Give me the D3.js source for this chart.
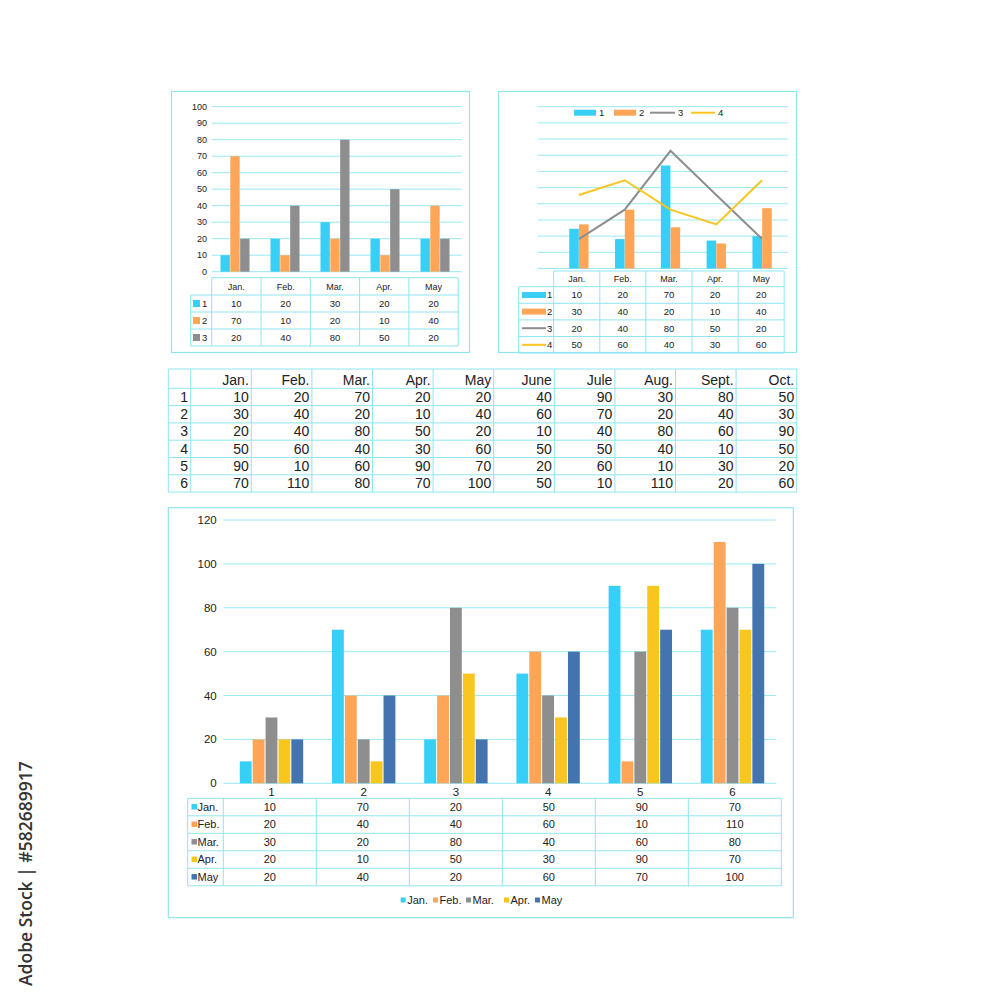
<!DOCTYPE html>
<html>
<head>
<meta charset="utf-8">
<script src="https://cdn.jsdelivr.net/npm/d3@7"></script>
<style>
  body { margin: 0; background: #fff; }
  text { font-family: "Liberation Sans", Arial, sans-serif; fill: #222; }
</style>
</head>
<body>
<div id="vis"></div>
<script>
var width = 1000,
    height = 1000;

// colours
var cBlue = "#38cff7", cOrange = "#ffa557", cGrey = "#8e8e8e",
    cYellow = "#f9c51f", cNavy = "#4474b0",
    gridColor = "#98e9f4", borderColor = "#8fe5f0";

// ---- data ----
var months = ["Jan.", "Feb.", "Mar.", "Apr.", "May"];

// top left chart
var tlSeries1 = [10, 20, 30, 20, 20],
    tlSeries2 = [70, 10, 20, 10, 40],
    tlSeries3 = [20, 40, 80, 50, 20];
var tlTicks = [0, 10, 20, 30, 40, 50, 60, 70, 80, 90, 100];

// top right chart: table values, and bar heights as drawn
var trTable1 = [10, 20, 70, 20, 20],
    trTable2 = [30, 40, 20, 10, 40],
    trTable3 = [20, 40, 80, 50, 20],
    trTable4 = [50, 60, 40, 30, 60];
var trBars1 = [27, 20, 70, 19, 22],
    trBars2 = [30, 40, 28, 17, 41];
var trGrid = [0, 11, 22, 33, 44, 55, 66, 77, 88, 99, 110];

// middle table
var allMonths = ["Jan.", "Feb.", "Mar.", "Apr.", "May", "June", "Jule", "Aug.", "Sept.", "Oct."];
var rowLabels = ["1", "2", "3", "4", "5", "6"];
var row1 = [10, 20, 70, 20, 20, 40, 90, 30, 80, 50],
    row2 = [30, 40, 20, 10, 40, 60, 70, 20, 40, 30],
    row3 = [20, 40, 80, 50, 20, 10, 40, 80, 60, 90],
    row4 = [50, 60, 40, 30, 60, 50, 50, 40, 10, 50],
    row5 = [90, 10, 60, 90, 70, 20, 60, 10, 30, 20],
    row6 = [70, 110, 80, 70, 100, 50, 10, 110, 20, 60];

// bottom chart
var groups = ["1", "2", "3", "4", "5", "6"];
var bJan = [10, 70, 20, 50, 90, 70],
    bFeb = [20, 40, 40, 60, 10, 110],
    bMar = [30, 20, 80, 40, 60, 80],
    bApr = [20, 10, 50, 30, 90, 70],
    bMay = [20, 40, 20, 60, 70, 100];
var bTicks = [0, 20, 40, 60, 80, 100, 120];

var svg = d3.select("#vis").append("svg")
    .attr("width", width)
    .attr("height", height);

function panel(x, y, w, h) {
    svg.append("rect")
        .attr("x", x).attr("y", y)
        .attr("width", w).attr("height", h)
        .attr("fill", "none")
        .attr("stroke", borderColor)
        .attr("stroke-width", 1.2);
}

function hline(g, x1, x2, y) {
    g.append("line")
        .attr("x1", x1).attr("x2", x2)
        .attr("y1", y).attr("y2", y)
        .attr("stroke", borderColor);
}
function vline(g, x, y1, y2) {
    g.append("line")
        .attr("x1", x).attr("x2", x)
        .attr("y1", y1).attr("y2", y2)
        .attr("stroke", borderColor);
}

// ================= top left =================
panel(171.5, 91.5, 298, 261);
var tl = svg.append("g");
var tlY = d3.scaleLinear().domain([0, 100]).range([271.7, 106.7]);
var tlX = d3.scaleBand().domain(months).range([210, 460]).paddingInner(0.4).paddingOuter(0.2);
var tlX1 = d3.scaleBand().domain([0, 1, 2]).range([0, tlX.bandwidth()]).padding(0.05);

tl.selectAll(".grid").data(tlTicks).enter().append("line")
    .attr("x1", 211.7).attr("x2", 461.7)
    .attr("y1", tlY).attr("y2", tlY)
    .attr("stroke", gridColor);
tl.selectAll(".tick").data(tlTicks).enter().append("text")
    .attr("x", 207).attr("y", tlY).attr("dy", "0.35em")
    .attr("text-anchor", "end").attr("font-size", 9)
    .text(function(d) { return d; });

var tlData = [tlSeries1, tlSeries2, tlSeries3], tlColors = [cBlue, cOrange, cGrey];
tlData.forEach(function(s, i) {
    tl.selectAll(".b" + i).data(s).enter().append("rect")
        .attr("x", function(d, j) { return tlX(months[j]) + tlX1(i); })
        .attr("width", tlX1.bandwidth())
        .attr("y", function(d) { return tlY(d); })
        .attr("height", function(d) { return tlY(0) - tlY(d); })
        .attr("fill", tlColors[i]);
});

// table under top left chart
(function() {
    var x0 = 190.7, x1 = 211.7, cw = 49.3, top = 277.7, hh = 17.3, rh = 17;
    var xe = x1 + cw * 5, yb = top + hh + rh * 3;
    hline(tl, x1, xe, top);
    hline(tl, x0, xe, top + hh);
    for (var r = 1; r <= 3; r++) hline(tl, x0, xe, top + hh + rh * r);
    vline(tl, x0, top + hh, yb);
    for (var c = 0; c <= 5; c++) vline(tl, x1 + cw * c, top, yb);
    tl.selectAll(".hd").data(months).enter().append("text")
        .attr("x", function(d, i) { return x1 + cw * (i + 0.5); })
        .attr("y", top + hh / 2).attr("dy", "0.35em")
        .attr("text-anchor", "middle").attr("font-size", 9)
        .text(function(d) { return d; });
    tlData.forEach(function(s, r) {
        var cy = top + hh + rh * (r + 0.5);
        tl.append("rect").attr("x", 193).attr("y", cy - 3.5)
            .attr("width", 7).attr("height", 7).attr("fill", tlColors[r]);
        tl.append("text").attr("x", 202).attr("y", cy).attr("dy", "0.35em")
            .attr("font-size", 9.5).text(r + 1);
        tl.selectAll(".v" + r).data(s).enter().append("text")
            .attr("x", function(d, i) { return x1 + cw * (i + 0.5); })
            .attr("y", cy).attr("dy", "0.35em")
            .attr("text-anchor", "middle").attr("font-size", 9.5)
            .text(function(d) { return d; });
    });
})();

// ================= top right =================
panel(498.5, 91.5, 298, 261);
var tr = svg.append("g");
var trY = d3.scaleLinear().domain([0, 110]).range([268.5, 106.7]);
var trX = d3.scaleBand().domain(months).range([556, 785]).paddingInner(0.57).paddingOuter(0.285);
var trX1 = d3.scaleBand().domain([0, 1]).range([0, trX.bandwidth()]).padding(0.02);

tr.selectAll(".grid").data(trGrid).enter().append("line")
    .attr("x1", 537.7).attr("x2", 787.7)
    .attr("y1", trY).attr("y2", trY)
    .attr("stroke", gridColor);

[trBars1, trBars2].forEach(function(s, i) {
    tr.selectAll(".b" + i).data(s).enter().append("rect")
        .attr("x", function(d, j) { return trX(months[j]) + trX1(i); })
        .attr("width", trX1.bandwidth())
        .attr("y", function(d) { return trY(d); })
        .attr("height", function(d) { return trY(0) - trY(d); })
        .attr("fill", i ? cOrange : cBlue);
});

var trLine = d3.line()
    .x(function(d, i) { return trX(months[i]) + trX.bandwidth() / 2; })
    .y(function(d) { return trY(d); });
tr.append("path").attr("d", trLine(trTable3))
    .attr("fill", "none").attr("stroke", cGrey).attr("stroke-width", 2);
tr.append("path").attr("d", trLine(trTable4))
    .attr("fill", "none").attr("stroke", cYellow).attr("stroke-width", 2);

// legend
(function() {
    var ly = 112.7;
    tr.append("rect").attr("x", 574).attr("y", ly - 3).attr("width", 22).attr("height", 6).attr("fill", cBlue);
    tr.append("text").attr("x", 599).attr("y", ly).attr("dy", "0.35em").attr("font-size", 9.5).text("1");
    tr.append("rect").attr("x", 614).attr("y", ly - 3).attr("width", 22).attr("height", 6).attr("fill", cOrange);
    tr.append("text").attr("x", 639).attr("y", ly).attr("dy", "0.35em").attr("font-size", 9.5).text("2");
    tr.append("line").attr("x1", 650).attr("x2", 675).attr("y1", ly).attr("y2", ly)
        .attr("stroke", cGrey).attr("stroke-width", 2);
    tr.append("text").attr("x", 678).attr("y", ly).attr("dy", "0.35em").attr("font-size", 9.5).text("3");
    tr.append("line").attr("x1", 691).attr("x2", 715).attr("y1", ly).attr("y2", ly)
        .attr("stroke", cYellow).attr("stroke-width", 2);
    tr.append("text").attr("x", 718).attr("y", ly).attr("dy", "0.35em").attr("font-size", 9.5).text("4");
})();

// table under top right chart
(function() {
    var x0 = 518.7, x1 = 553.7, cw = 46.1, top = 271, hh = 15.7, rh = 16.6;
    var xe = x1 + cw * 5, yb = top + hh + rh * 4;
    hline(tr, x1, xe, top);
    hline(tr, x0, xe, top + hh);
    for (var r = 1; r <= 4; r++) hline(tr, x0, xe, top + hh + rh * r);
    vline(tr, x0, top + hh, yb);
    for (var c = 0; c <= 5; c++) vline(tr, x1 + cw * c, top, yb);
    tr.selectAll(".hd").data(months).enter().append("text")
        .attr("x", function(d, i) { return x1 + cw * (i + 0.5); })
        .attr("y", top + hh / 2).attr("dy", "0.35em")
        .attr("text-anchor", "middle").attr("font-size", 9)
        .text(function(d) { return d; });
    var rows = [trTable1, trTable2, trTable3, trTable4],
        cols = [cBlue, cOrange, cGrey, cYellow];
    rows.forEach(function(s, r) {
        var cy = top + hh + rh * (r + 0.5);
        if (r < 2) {
            tr.append("rect").attr("x", 522).attr("y", cy - 3).attr("width", 24).attr("height", 6).attr("fill", cols[r]);
        } else {
            tr.append("line").attr("x1", 522).attr("x2", 546).attr("y1", cy).attr("y2", cy)
                .attr("stroke", cols[r]).attr("stroke-width", 2);
        }
        tr.append("text").attr("x", 547).attr("y", cy).attr("dy", "0.35em")
            .attr("font-size", 9.5).text(r + 1);
        tr.selectAll(".v" + r).data(s).enter().append("text")
            .attr("x", function(d, i) { return x1 + cw * (i + 0.5); })
            .attr("y", cy).attr("dy", "0.35em")
            .attr("text-anchor", "middle").attr("font-size", 9.5)
            .text(function(d) { return d; });
    });
})();

// ================= middle table =================
(function() {
    var g = svg.append("g");
    var x0 = 168.3, x1 = 190.7, cw = 60.6, top = 369, hh = 19.3, rh = 17.3;
    var xe = x1 + cw * 10, yb = top + hh + rh * 6;
    hline(g, x0, xe, top);
    for (var r = 0; r <= 6; r++) hline(g, x0, xe, top + hh + rh * r);
    vline(g, x0, top, yb);
    for (var c = 0; c <= 10; c++) vline(g, x1 + cw * c, top, yb);
    g.selectAll(".hd").data(allMonths).enter().append("text")
        .attr("x", function(d, i) { return x1 + cw * (i + 1) - 2.5; })
        .attr("y", top + hh / 2 + 1).attr("dy", "0.35em")
        .attr("text-anchor", "end").attr("font-size", 14)
        .text(function(d) { return d; });
    [row1, row2, row3, row4, row5, row6].forEach(function(s, r) {
        var cy = top + hh + rh * (r + 0.5);
        g.append("text").attr("x", 188).attr("y", cy).attr("dy", "0.35em")
            .attr("text-anchor", "end").attr("font-size", 14).text(rowLabels[r]);
        g.selectAll(".v" + r).data(s).enter().append("text")
            .attr("x", function(d, i) { return x1 + cw * (i + 1) - 2.5; })
            .attr("y", cy).attr("dy", "0.35em")
            .attr("text-anchor", "end").attr("font-size", 14)
            .text(function(d) { return d; });
    });
})();

// ================= bottom chart =================
panel(168.3, 507.7, 625, 410);
var bt = svg.append("g");
var bY = d3.scaleLinear().domain([0, 120]).range([783.3, 520]);
var bX = d3.scaleBand().domain(groups).range([224, 780]).paddingInner(0.29).paddingOuter(0.16);
var bSeries = [bJan, bFeb, bMar, bApr, bMay],
    bNames = ["Jan.", "Feb.", "Mar.", "Apr.", "May"],
    bColors = [cBlue, cOrange, cGrey, cYellow, cNavy];
var bX1 = d3.scaleBand().domain(d3.range(5)).range([0, bX.bandwidth()]).padding(0.08);

bt.selectAll(".grid").data(bTicks).enter().append("line")
    .attr("x1", 223.3).attr("x2", 776)
    .attr("y1", bY).attr("y2", bY)
    .attr("stroke", gridColor);
bt.selectAll(".tick").data(bTicks).enter().append("text")
    .attr("x", 216.7).attr("y", bY).attr("dy", "0.35em")
    .attr("text-anchor", "end").attr("font-size", 11.5)
    .text(function(d) { return d; });

bSeries.forEach(function(s, i) {
    bt.selectAll(".b" + i).data(s).enter().append("rect")
        .attr("x", function(d, j) { return bX(groups[j]) + bX1(i); })
        .attr("width", bX1.bandwidth())
        .attr("y", function(d) { return bY(d); })
        .attr("height", function(d) { return bY(0) - bY(d); })
        .attr("fill", bColors[i]);
});

bt.selectAll(".xl").data(groups).enter().append("text")
    .attr("x", function(d) { return bX(d) + bX.bandwidth() / 2; })
    .attr("y", 791.7).attr("dy", "0.35em")
    .attr("text-anchor", "middle").attr("font-size", 11.5)
    .text(function(d) { return d; });

// table under bottom chart
(function() {
    var x0 = 187.7, x1 = 223.3, cw = 93, top = 798.3, rh = 17.5;
    var xe = x1 + cw * 6, yb = top + rh * 5;
    for (var r = 0; r <= 5; r++) hline(bt, x0, xe, top + rh * r);
    vline(bt, x0, top, yb);
    for (var c = 0; c <= 6; c++) vline(bt, x1 + cw * c, top, yb);
    bSeries.forEach(function(s, r) {
        var cy = top + rh * (r + 0.5);
        bt.append("rect").attr("x", 191.5).attr("y", cy - 3).attr("width", 5.5).attr("height", 5.5)
            .attr("fill", bColors[r]);
        bt.append("text").attr("x", 197.5).attr("y", cy).attr("dy", "0.35em")
            .attr("font-size", 11).text(bNames[r]);
        bt.selectAll(".v" + r).data(s).enter().append("text")
            .attr("x", function(d, i) { return x1 + cw * (i + 0.5); })
            .attr("y", cy).attr("dy", "0.35em")
            .attr("text-anchor", "middle").attr("font-size", 11)
            .text(function(d) { return d; });
    });
})();

// bottom legend
(function() {
    var ly = 900, xs = [400.7, 433, 466, 504, 535];
    bNames.forEach(function(n, i) {
        bt.append("rect").attr("x", xs[i]).attr("y", ly - 2.5).attr("width", 5).attr("height", 5)
            .attr("fill", bColors[i]);
        bt.append("text").attr("x", xs[i] + 6.5).attr("y", ly).attr("dy", "0.35em")
            .attr("font-size", 11).text(n);
    });
})();

// stock id on the left edge
svg.append("text")
    .attr("transform", "translate(32,986)rotate(-90)")
    .attr("font-size", 17.5)
    .attr("font-weight", 600)
    .style("font-family", "'Open Sans', sans-serif")
    .style("fill", "#333")
    .text("Adobe Stock | #582689917");
</script>
</body>
</html>
